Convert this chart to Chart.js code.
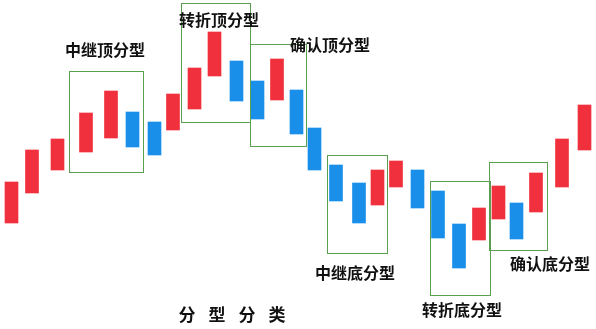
<!DOCTYPE html>
<html>
<head>
<meta charset="utf-8">
<script src="https://cdn.jsdelivr.net/npm/chart.js@4/dist/chart.umd.min.js"></script>
<style>
  body { margin: 0; background: #fff; }
  #wrap { width: 596px; height: 329px; position: relative; }
</style>
</head>
<body>
<div id="wrap"><canvas id="chart"></canvas></div>
<script>
// 时间位置 (横轴) 和 开/收盘价
const times = [11.5, 32, 57.5, 86, 111, 132.5, 154.5, 173, 194.5, 214.5, 236.5, 257.5, 277, 296.5,
  314.5, 336, 359, 377.5, 396, 417.5, 438, 459, 479, 498.5, 516.5, 536, 562, 584.5];
const opens = [7.7, 10.7, 13.0, 14.8, 16.2, 18.8, 17.8, 17.0, 19.1, 22.4, 23.9, 21.9, 20.0, 21.0,
  17.2, 13.5, 11.7, 9.5, 11.3, 13.0, 10.9, 7.6, 6.0, 8.1, 9.7, 8.8, 11.3, 15.0];
const closes = [11.8, 15.0, 16.1, 18.7, 20.9, 15.3, 14.5, 20.6, 23.2, 26.8, 19.9, 18.1, 24.1, 16.6,
  13.0, 9.9, 7.7, 13.0, 13.9, 9.2, 6.2, 3.2, 9.2, 11.4, 6.1, 12.7, 16.1, 19.5];

// 分型框: [左时间, 右时间, 上价, 下价]
const boxes = [
  [69, 143, 22.9, 12.8],
  [181, 250, 29.7, 17.8],
  [250, 306, 25.6, 15.4],
  [327, 387, 14.5, 4.7],
  [430, 490, 11.9, 0.5],
  [489, 547, 13.8, 5.0]
];
const labelTexts = ["中继顶分型", "转折顶分型", "确认顶分型", "中继底分型", "转折底分型", "确认底分型"];
const labelTimes = [105, 219, 330, 355, 462, 550];
const labelPrices = [25.0, 28.0, 25.5, 2.7, -1.0, 3.6];
const title = "分型分类";

const UP = "#f0303c";
const DOWN = "#1a8fea";

const candleData = times.map((t, i) => ({ x: t, y: [opens[i], closes[i]] }));
const candleColors = opens.map((o, i) => closes[i] > o ? UP : DOWN);

const overlay = {
  id: "overlay",
  afterDatasetsDraw(chart) {
    const ctx = chart.ctx;
    const xs = chart.scales.x, ys = chart.scales.y;
    ctx.save();
    ctx.strokeStyle = "#5a9e50";
    ctx.lineWidth = 1;
    boxes.forEach(b => {
      const x1 = Math.round(xs.getPixelForValue(b[0])) + 0.5;
      const x2 = Math.round(xs.getPixelForValue(b[1])) + 0.5;
      const y1 = Math.round(ys.getPixelForValue(b[2])) + 0.5;
      const y2 = Math.round(ys.getPixelForValue(b[3])) + 0.5;
      ctx.strokeRect(x1, y1, x2 - x1, y2 - y1);
    });
    ctx.fillStyle = "#111";
    ctx.font = "bold 16px 'Noto Sans CJK SC'";
    ctx.textAlign = "center";
    ctx.textBaseline = "middle";
    labelTexts.forEach((txt, i) => {
      ctx.fillText(txt, xs.getPixelForValue(labelTimes[i]), ys.getPixelForValue(labelPrices[i]));
    });
    // 标题, 字间距较大
    ctx.font = "bold 17px 'Noto Sans CJK SC'";
    const tx = xs.getPixelForValue(232);
    const ty = ys.getPixelForValue(-1.5);
    const step = 30;
    Array.from(title).forEach((ch, i) => {
      ctx.fillText(ch, tx + (i - 1.5) * step, ty);
    });
    ctx.restore();
  }
};

new Chart(document.getElementById("chart"), {
  type: "bar",
  data: {
    datasets: [{
      data: candleData,
      backgroundColor: candleColors,
      borderWidth: 0,
      barThickness: 13,
      grouped: false
    }]
  },
  options: {
    responsive: true,
    maintainAspectRatio: false,
    animation: false,
    layout: { padding: 0 },
    plugins: { legend: { display: false }, tooltip: { enabled: false } },
    scales: {
      x: { type: "linear", min: 0, max: 596, offset: false, display: false },
      y: { min: -2.9, max: 30, display: false }
    }
  },
  plugins: [overlay]
});
</script>
</body>
</html>
